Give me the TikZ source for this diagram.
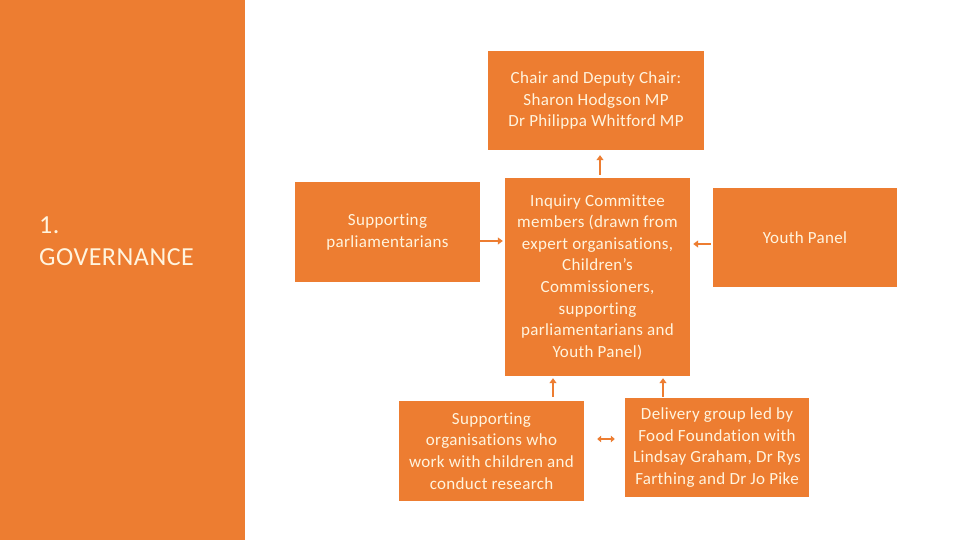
\documentclass[tikz,border=0pt]{standalone}
\usepackage{fontspec}
\setmainfont{Carlito}[Ligatures={NoCommon},LetterSpace=2]
\usetikzlibrary{arrows.meta}
\definecolor{org}{HTML}{ED7D31}
\definecolor{cream}{HTML}{FFF4DE}
\begin{document}
\begin{tikzpicture}[x=1pt,y=1pt,
  box/.style={draw=none,fill=org,text=cream,align=center,inner sep=0pt,
    font=\fontsize{17}{21.6}\selectfont},
  arr/.style={draw=org,line width=1.8pt,-{Triangle[length=5pt,width=7pt]}},
  dbl/.style={draw=org,line width=1.8pt,{Triangle[length=4pt,width=6.5pt]}-{Triangle[length=4pt,width=6.5pt]}}]
\useasboundingbox (0,0) rectangle (960,540);
\fill[white] (0,0) rectangle (960,540);
\fill[org] (0,0) rectangle (245,540);
\node[anchor=west,align=left,text=cream,inner sep=0pt,font=\fontsize{26}{32}\selectfont] (title) at (39,299) {1.\\GOVERNANCE};
\node[box,minimum width=216,minimum height=99] (chair) at (596,439.5) {Chair and Deputy Chair:\\Sharon Hodgson MP\\Dr Philippa Whitford MP};
\node[box,minimum width=185,minimum height=198] (inq) at (597.5,263) {Inquiry Committee\\members (drawn from\\expert organisations,\\Children’s\\Commissioners,\\supporting\\parliamentarians and\\Youth Panel)};
\node[box,minimum width=185,minimum height=100] (sp) at (387.5,308) {Supporting\\parliamentarians};
\node[box,minimum width=184,minimum height=99] (yp) at (805,302.5) {Youth Panel};
\node[box,minimum width=185,minimum height=100] (orgs) at (491.5,89) {Supporting\\organisations who\\work with children and\\conduct research};
\node[box,minimum width=184,minimum height=99] (dg) at (717,92.5) {Delivery group led by\\Food Foundation with\\Lindsay Graham, Dr Rys\\Farthing and Dr Jo Pike};
\draw[arr,shorten <=3pt,shorten >=5pt] ([xshift=2.5]inq.north) -- ([xshift=4]chair.south);
\draw[arr,shorten >=2pt] ([yshift=-9]sp.east) -- ([yshift=-9]sp.east -| inq.west);
\draw[arr,shorten <=2pt,shorten >=3pt] ([yshift=-6.5]yp.west) -- ([yshift=-6.5]yp.west -| inq.east);
\draw[arr,shorten <=4pt,shorten >=2pt] ([xshift=61.5]orgs.north) -- ([xshift=61.5]orgs.north |- inq.south);
\draw[arr,shorten <=1pt,shorten >=2pt] ([xshift=-54]dg.north) -- ([xshift=-54]dg.north |- inq.south);
\draw[dbl,shorten <=13pt,shorten >=10pt] ([yshift=12]orgs.east) -- ([yshift=12]orgs.east -| dg.west);
\end{tikzpicture}
\end{document}
